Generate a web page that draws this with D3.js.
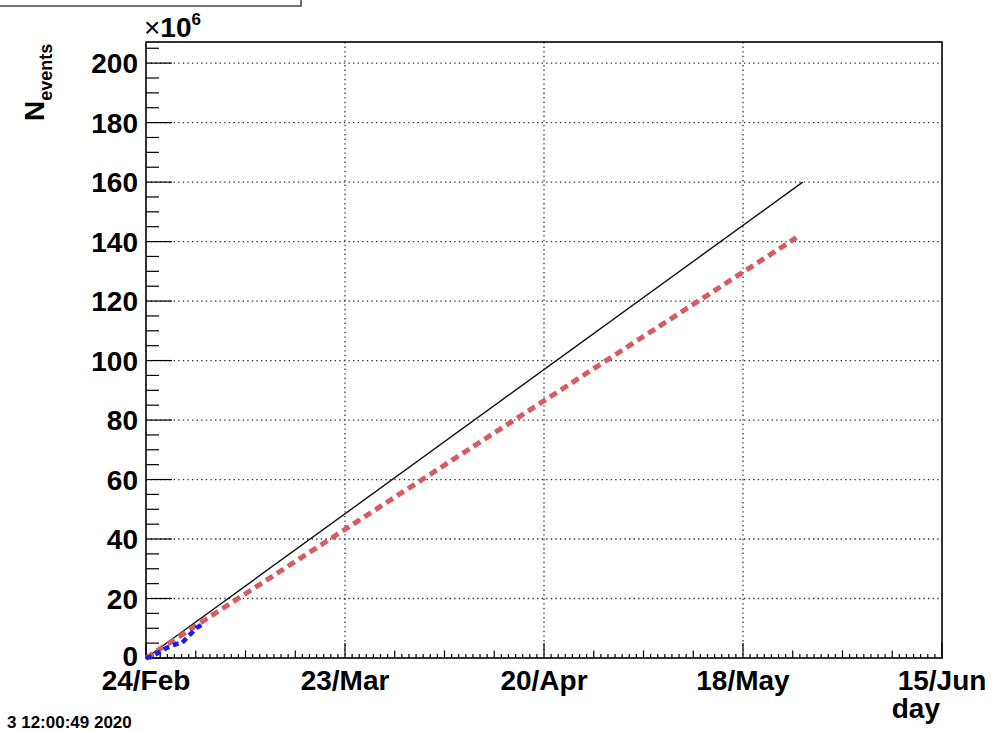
<!DOCTYPE html>
<html>
<head>
<meta charset="utf-8">
<script src="https://cdn.jsdelivr.net/npm/d3@7"></script>
<style>
  html, body { margin: 0; padding: 0; background: #fff; }
  svg { display: block; font-family: "Liberation Sans", Arial, sans-serif; }
</style>
</head>
<body>
<svg id="chart" width="994" height="731"></svg>
<script>
// ---------- data (days since 24/Feb/2020, N_events in units of 10^6) ----------
const startDate = "2020-02-24";
const endDate = "2020-06-15";
const xTickLabels = ["24/Feb", "23/Mar", "20/Apr", "18/May", "15/Jun"];
const xTickDays = [0, 28, 56, 84, 112];
const yTickValues = [0, 20, 40, 60, 80, 100, 120, 140, 160, 180, 200];
const yMax = 207.1;

// measured events (blue)
const measuredDays = [0, 0.8, 2.9, 4.3, 5.0, 5.9, 7.1, 8.1];
const measuredEvents = [0, 0.4, 3.4, 4.7, 4.9, 7.2, 10.0, 11.7];

// expected projection (black solid)
const expectedDays = [0, 92.4];
const expectedEvents = [0, 160];

// extrapolated trend (red dashed)
const trendDays = [0, 91.5];
const trendEvents = [0, 141.3];

const xTitle = "day";
const yTitleMain = "N";
const yTitleSub = "events";
const stamp = "3 12:00:49 2020";

// ---------- layout ----------
const L = 146, R = 942, T = 42, B = 658;
const svg = d3.select("#chart");
const t0 = new Date(startDate + "T00:00:00Z");
const dayToDate = d => new Date(t0.getTime() + d * 864e5);

const x = d3.scaleUtc().domain([t0, new Date(endDate + "T00:00:00Z")]).range([L, R]);
const y = d3.scaleLinear().domain([0, yMax]).range([B, T]);

// top-left partial box
svg.append("rect").attr("x", -2).attr("y", -2).attr("width", 303).attr("height", 8)
  .attr("fill", "#fff").attr("stroke", "#444").attr("stroke-width", 1.5);

// grid
const grid = svg.append("g").attr("stroke", "#333").attr("stroke-width", 1.3)
  .attr("stroke-dasharray", "1.4,3.2").attr("fill", "none");
yTickValues.filter(v => v > 0).forEach(v => {
  grid.append("line").attr("x1", L).attr("x2", R).attr("y1", y(v)).attr("y2", y(v));
});
xTickDays.filter(d => d > 0 && d < 112).forEach(d => {
  grid.append("line").attr("x1", x(dayToDate(d))).attr("x2", x(dayToDate(d))).attr("y1", T).attr("y2", B);
});

// x-axis ticks (day / week / 4 weeks)
const xAxisG = svg.append("g").attr("stroke", "#000").attr("stroke-width", 1.2);
const dayTicks = d3.utcDay.range(t0, dayToDate(112.5));
dayTicks.forEach((dt, i) => {
  const len = (i % 28 === 0) ? 15 : (i % 7 === 0 ? 7.5 : 4);
  const xx = x(dt);
  xAxisG.append("line").attr("x1", xx).attr("x2", xx).attr("y1", B).attr("y2", B - len);
});

// y-axis ticks
const yAxisG = svg.append("g").attr("stroke", "#000").attr("stroke-width", 1.2);
d3.range(0, yMax, 5).forEach(v => {
  const len = (v % 20 === 0) ? 26 : 13;
  yAxisG.append("line").attr("x1", L).attr("x2", L + len).attr("y1", y(v)).attr("y2", y(v));
});

// frame
svg.append("rect").attr("x", L).attr("y", T).attr("width", R - L).attr("height", B - T)
  .attr("fill", "none").attr("stroke", "#000").attr("stroke-width", 1.6);

// lines
const line = d3.line().x(d => x(dayToDate(d[0]))).y(d => y(d[1]));
svg.append("path").datum(d3.zip(expectedDays, expectedEvents)).attr("d", line)
  .attr("fill", "none").attr("stroke", "#111").attr("stroke-width", 1.4);
svg.append("path").datum(d3.zip(trendDays, trendEvents)).attr("d", line)
  .attr("fill", "none").attr("stroke", "#d65c5f").attr("stroke-width", 5)
  .attr("stroke-dasharray", "8,5");
svg.append("path").datum(d3.zip(measuredDays, measuredEvents)).attr("d", line)
  .attr("fill", "none").attr("stroke", "#1a1aff").attr("stroke-width", 4.5)
  .attr("stroke-dasharray", "6,4");

// tick labels
const lbl = svg.append("g").attr("font-weight", "bold").attr("font-size", 28).attr("fill", "#000");
xTickDays.forEach((d, i) => {
  lbl.append("text").attr("x", x(dayToDate(d))).attr("y", 690).attr("text-anchor", "middle")
    .text(xTickLabels[i]);
});
yTickValues.forEach(v => {
  lbl.append("text").attr("x", 138).attr("y", y(v) + (v === 0 ? 8 : 10)).attr("text-anchor", "end").text(v);
});

// exponent label
const ex = svg.append("text").attr("x", 144).attr("y", 37).attr("font-size", 28).attr("fill", "#000");
ex.append("tspan").attr("font-weight", "normal").text("\u00d7");
ex.append("tspan").attr("font-weight", "bold").text("10");
ex.append("tspan").attr("font-weight", "bold").attr("font-size", 17).attr("dy", -12).text("6");

// axis titles
svg.append("text").attr("x", 940).attr("y", 718).attr("text-anchor", "end")
  .attr("font-weight", "bold").attr("font-size", 28).text(xTitle);
const yt = svg.append("text").attr("transform", "translate(44,121) rotate(-90)")
  .attr("font-weight", "bold").attr("font-size", 28);
yt.append("tspan").text(yTitleMain);
yt.append("tspan").attr("font-size", 18).attr("dy", 8).text(yTitleSub);

// date stamp
svg.append("text").attr("x", 7).attr("y", 728).attr("font-weight", "bold").attr("font-size", 17)
  .text(stamp);
</script>
</body>
</html>
